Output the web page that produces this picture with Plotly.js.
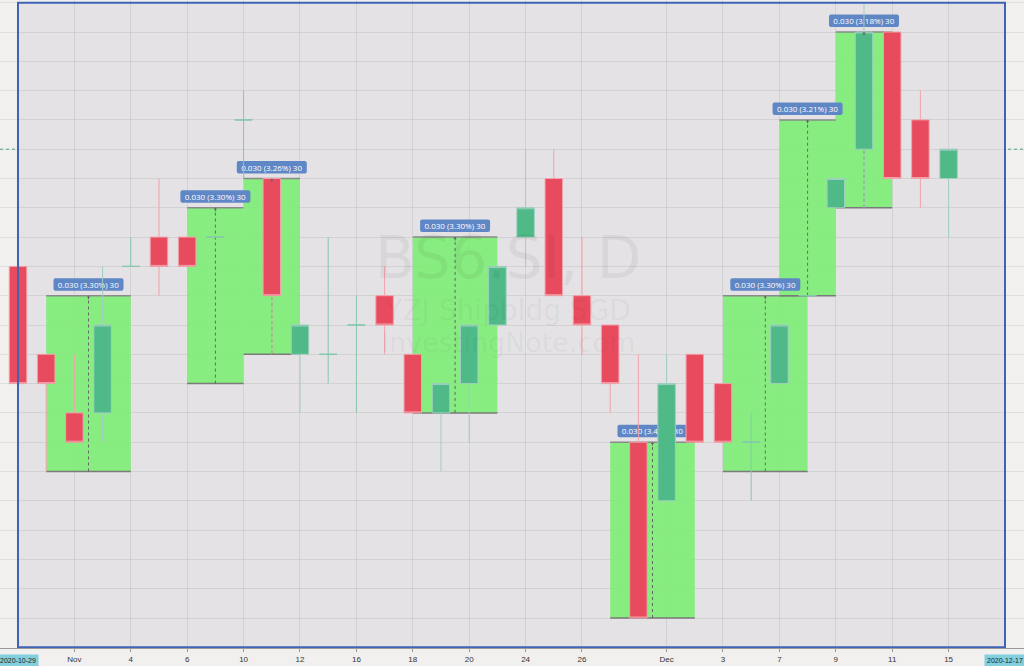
<!DOCTYPE html>
<html><head><meta charset="utf-8">
<script src="https://cdn.plot.ly/plotly-3.0.1.min.js"></script>
<style>html,body{margin:0;padding:0;background:#f1f0ef;}#chart{width:1024px;height:666px;}</style>
</head><body><div id="chart"></div>
<script>
// Trading days shown on the axis
const dates = ['2020-10-29','2020-10-30','2020-11-02','2020-11-03','2020-11-04','2020-11-05','2020-11-06',
  '2020-11-09','2020-11-10','2020-11-11','2020-11-12','2020-11-13','2020-11-16','2020-11-17','2020-11-18',
  '2020-11-19','2020-11-20','2020-11-23','2020-11-24','2020-11-25','2020-11-26','2020-11-27','2020-11-30',
  '2020-12-01','2020-12-02','2020-12-03','2020-12-04','2020-12-07','2020-12-08','2020-12-09','2020-12-10',
  '2020-12-11','2020-12-14','2020-12-15','2020-12-16','2020-12-17'];

// OHLC (first 34 trading days)
const open  = [0.945,0.930,0.920,0.920,0.945,0.950,0.950,0.950,0.970,0.960,0.930,0.930,0.935,0.940,0.930,0.920,0.925,
               0.935,0.950,0.960,0.940,0.935,0.915,0.905,0.930,0.925,0.915,0.925,0.940,0.955,0.965,0.985,0.970,0.960];
const high  = [0.950,0.930,0.930,0.945,0.950,0.960,0.950,0.950,0.975,0.960,0.935,0.950,0.940,0.945,0.930,0.925,0.935,
               0.945,0.965,0.965,0.950,0.935,0.930,0.930,0.930,0.925,0.920,0.935,0.940,0.960,0.990,0.985,0.975,0.965];
const low   = [0.925,0.910,0.915,0.915,0.945,0.940,0.945,0.950,0.960,0.930,0.920,0.925,0.920,0.930,0.920,0.910,0.915,
               0.935,0.945,0.940,0.930,0.920,0.885,0.905,0.915,0.915,0.905,0.925,0.940,0.955,0.955,0.960,0.955,0.950];
const close = [0.925,0.925,0.915,0.935,0.945,0.945,0.945,0.950,0.970,0.940,0.935,0.930,0.935,0.935,0.920,0.925,0.935,
               0.945,0.955,0.940,0.935,0.925,0.885,0.925,0.915,0.915,0.915,0.935,0.940,0.960,0.985,0.960,0.960,0.965];

// Tick labels
const tickDates  = ['2020-11-02','2020-11-04','2020-11-06','2020-11-10','2020-11-12','2020-11-16','2020-11-18',
  '2020-11-20','2020-11-24','2020-11-26','2020-12-01','2020-12-03','2020-12-07','2020-12-09','2020-12-11','2020-12-15'];
const tickLabels = ['Nov','4','6','10','12','16','18','20','24','26','Dec','3','7','9','11','15'];

// Price-range boxes
const boxStart  = ['2020-10-30','2020-11-06','2020-11-10','2020-11-18','2020-11-27','2020-12-03','2020-12-07','2020-12-09'];
const boxEnd    = ['2020-11-04','2020-11-10','2020-11-12','2020-11-23','2020-12-02','2020-12-08','2020-12-09','2020-12-11'];
const boxLow    = [0.910,0.925,0.930,0.920,0.885,0.910,0.940,0.955];
const boxHigh   = [0.940,0.955,0.960,0.950,0.915,0.940,0.970,0.985];
const boxLabels = ['0.030 (3.30%) 30','0.030 (3.30%) 30','0.030 (3.26%) 30','0.030 (3.30%) 30',
                   '0.030 (3.41%) 30','0.030 (3.30%) 30','0.030 (3.21%) 30','0.030 (3.18%) 30'];

// Watermark
const watermark = ['BS6.SI, D','YZJ Shipbldg SGD','InvestingNote.com'];

// axis geometry (trading-day index on x)
const pos = d => dates.indexOf(d);
const xRange = [-0.638, 35.674];
const yRange = [0.87988, 0.99046];
const plotW = 1024, plotH = 648;
const pxToPrice = px => px * (yRange[1]-yRange[0]) / plotH;
const pxToIdx = px => px * (xRange[1]-xRange[0]) / plotW;

const x = open.map((_,i)=>i);
const isDoji = open.map((o,i)=>o===close[i]);
const pick = (arr, want) => arr.map((v,i)=> isDoji[i]===want ? v : null);

const candles = {
  type:'candlestick', x:x,
  open:pick(open,false), high:pick(high,false), low:pick(low,false), close:pick(close,false),
  increasing:{fillcolor:'#4fb987', line:{color:'#9fcfc0', width:1}},
  decreasing:{fillcolor:'#e94b5e', line:{color:'#f1a2ab', width:1}},
  whiskerwidth:0, hoverinfo:'none', showlegend:false
};
const dojis = {
  type:'candlestick', x:x,
  open:pick(open,true), high:pick(high,true), low:pick(low,true), close:pick(close,true),
  increasing:{fillcolor:'#7cc6a7', line:{color:'#86c8ad', width:1}},
  decreasing:{fillcolor:'#7cc6a7', line:{color:'#86c8ad', width:1}},
  whiskerwidth:0, hoverinfo:'none', showlegend:false
};

// watermark text (center of plot)
const wmPx = [263, 313, 345];
const wmTrace = {
  type:'scatter', mode:'text', x:[17.38,17.38,17.38],
  y:wmPx.map(p=>yRange[1]-pxToPrice(p)), text:watermark, textposition:'middle center',
  textfont:{family:'DejaVu Sans', size:[58,28,27], color:'rgba(0,0,0,0.05)'},
  hoverinfo:'none', showlegend:false, cliponaxis:false
};

const shapes = [];
const annotations = [];
const mids = [];
const first = 0, lastIdx = dates.length-1;
// selection rectangle background
shapes.push({type:'rect', layer:'below', xref:'x', yref:'y', x0:first, x1:lastIdx,
  y0:0.88, y1:0.99, fillcolor:'#e4e2e4', line:{width:0}});
// boxes
boxStart.forEach((s,k)=>{
  const i0 = pos(s), i1 = pos(boxEnd[k]);
  const mid = (i0+i1)/2;
  mids.push(mid);
  shapes.push({type:'rect', layer:'between', xref:'x', yref:'y', x0:i0, x1:i1, y0:boxLow[k], y1:boxHigh[k],
    fillcolor:'rgba(120,238,110,0.85)', line:{width:0}});
  shapes.push({type:'line', layer:'between', xref:'x', yref:'y', x0:i0, x1:i1, y0:boxLow[k], y1:boxLow[k],
    line:{color:'#7a7a7a', width:1.5}});
  shapes.push({type:'line', layer:'between', xref:'x', yref:'y', x0:i0, x1:i1, y0:boxHigh[k], y1:boxHigh[k],
    line:{color:'#8a8a8a', width:1.5}});
  shapes.push({type:'line', layer:'between', xref:'x', yref:'y', x0:mid, x1:mid, y0:boxLow[k], y1:boxHigh[k],
    line:{color:'#666', width:1, dash:'3px,3px'}});
  annotations.push({x:mid, y:boxHigh[k], xref:'x', yref:'y', ax:0, ay:5, showarrow:true, arrowhead:1,
    arrowsize:0.6, arrowwidth:1, arrowcolor:'#666', text:'', standoff:0});
});
// box labels as bars (drawn beneath the candles)
const labelTrace = {
  type:'bar', x:mids, base:boxHigh.map(v=>v+pxToPrice(5)), y:boxHigh.map(()=>pxToPrice(12.5)),
  width:pxToIdx(70), text:boxLabels, textposition:'inside', insidetextanchor:'middle', constraintext:'none',
  textangle:0, textfont:{family:'Open Sans', size:8, color:'#ffffff'},
  marker:{color:'#5f87c6', line:{width:0}, cornerradius:2},
  hoverinfo:'none', showlegend:false, cliponaxis:false
};
// last price line
const last = close[close.length-1];
shapes.push({type:'line', layer:'between', xref:'paper', yref:'y', x0:0, x1:1, y0:last, y1:last,
  line:{color:'#5aa690', width:1, dash:'dot'}});
// selection border
shapes.push({type:'rect', layer:'above', xref:'x', yref:'y', x0:first, x1:lastIdx,
  y0:0.88, y1:0.99, fillcolor:'rgba(0,0,0,0)', line:{color:'#3f63b5', width:2}});

[first, lastIdx].forEach(i=>{
  annotations.push({x:i, xref:'x', y:0, yref:'paper', yanchor:'top', yshift:-6, text:dates[i], showarrow:false,
    bgcolor:'#82d0dd', borderpad:2, font:{family:'Liberation Sans', size:7, color:'#222'}});
});

const layout = {
  width:1024, height:666,
  margin:{l:0, r:0, t:0, b:18, pad:0},
  paper_bgcolor:'#f1f0ef', plot_bgcolor:'#f1f0ef',
  showlegend:false, boxgap:0.38, boxgroupgap:0, boxmode:'overlay', barmode:'overlay',
  xaxis:{type:'linear', range:xRange,
    tickvals:tickDates.map(pos), ticktext:tickLabels, showgrid:true, gridcolor:'rgba(0,0,0,0.07)',
    zeroline:false, showline:true, linecolor:'#9a9a9a', ticks:'outside', ticklen:3, tickcolor:'#9a9a9a',
    tickfont:{family:'Liberation Sans', size:8, color:'#333'}, rangeslider:{visible:false}, fixedrange:true},
  yaxis:{range:yRange, tick0:0.88, dtick:0.005, showticklabels:false, showgrid:true,
    gridcolor:'rgba(0,0,0,0.07)', zeroline:false, ticks:'', fixedrange:true},
  shapes:shapes, annotations:annotations
};
Plotly.newPlot('chart', [labelTrace, wmTrace, candles, dojis], layout, {displayModeBar:false, staticPlot:true});
</script></body></html>
